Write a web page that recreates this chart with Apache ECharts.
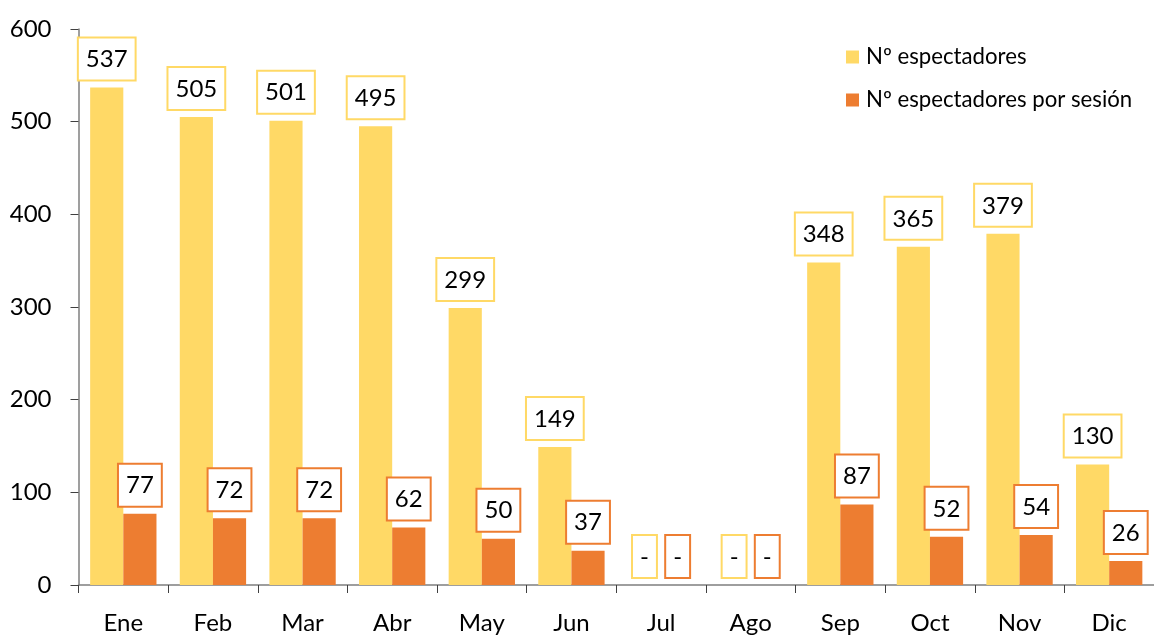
<!DOCTYPE html>
<html>
<head>
<meta charset="utf-8">
<script src="https://cdn.jsdelivr.net/npm/echarts@6/dist/echarts.min.js"></script>
<style>
html,body{margin:0;padding:0;background:#fff;}
#chart{width:1154px;height:635px;}
</style>
</head>
<body>
<div id="chart"></div>
<script>
const categories = ['Ene','Feb','Mar','Abr','May','Jun','Jul','Ago','Sep','Oct','Nov','Dic'];
const espectadores = [537, 505, 501, 495, 299, 149, null, null, 348, 365, 379, 130];
const porSesion = [77, 72, 72, 62, 50, 37, null, null, 87, 52, 54, 26];
const seriesNames = ['Nº espectadores', 'Nº espectadores por sesión'];
const yTicks = [0, 100, 200, 300, 400, 500, 600];

const FONT = 'Lato';
const colors = ['#FFD966', '#ED7D31'];

function toData(arr) {
  return arr.map(v => v === null ? { value: 0, missing: true } : { value: v });
}

function makeSeries(name, arr, color) {
  return {
    name: name,
    type: 'bar',
    data: toData(arr),
    itemStyle: { color: color },
    barGap: '0%',
    barCategoryGap: '26%',
    label: {
      show: true,
      position: 'top',
      distance: 8,
      fontFamily: FONT,
      fontSize: 24,
      color: '#000',
      backgroundColor: '#fff',
      borderColor: color,
      borderWidth: 2,
      padding: [9, 7, 8, 7],
      formatter: p => (p.data.missing ? '-' : String(p.value))
    }
  };
}

const chart = echarts.init(document.getElementById('chart'), null, { renderer: 'canvas' });
chart.setOption({
  animation: false,
  backgroundColor: '#fff',
  grid: { left: 78.5, top: 29, width: 1082, bottom: 50, containLabel: false },
  legend: {
    orient: 'vertical',
    left: 841,
    top: 41,
    itemWidth: 13,
    itemHeight: 13,
    itemGap: 21,
    icon: 'rect',
    textStyle: { fontFamily: FONT, fontSize: 22.2, color: '#000', lineHeight: 22, padding: [0, 0, 0, 2] },
    data: seriesNames
  },
  xAxis: {
    type: 'category',
    data: categories,
    axisLine: { lineStyle: { color: '#7f7f7f', width: 1.5 } },
    axisTick: { show: true, length: 8, lineStyle: { color: '#404040' } },
    axisLabel: { fontFamily: FONT, fontSize: 24, color: '#000', margin: 26 }
  },
  yAxis: {
    type: 'value',
    min: yTicks[0],
    max: yTicks[yTicks.length - 1],
    interval: yTicks[1] - yTicks[0],
    splitLine: { show: false },
    axisLine: { show: true, lineStyle: { color: '#7f7f7f', width: 1.5 } },
    axisTick: { show: true, length: 8, lineStyle: { color: '#404040' } },
    axisLabel: { fontFamily: FONT, fontSize: 24, color: '#000', margin: 27 }
  },
  series: [
    makeSeries(seriesNames[0], espectadores, colors[0]),
    makeSeries(seriesNames[1], porSesion, colors[1])
  ]
});
</script>
</body>
</html>
